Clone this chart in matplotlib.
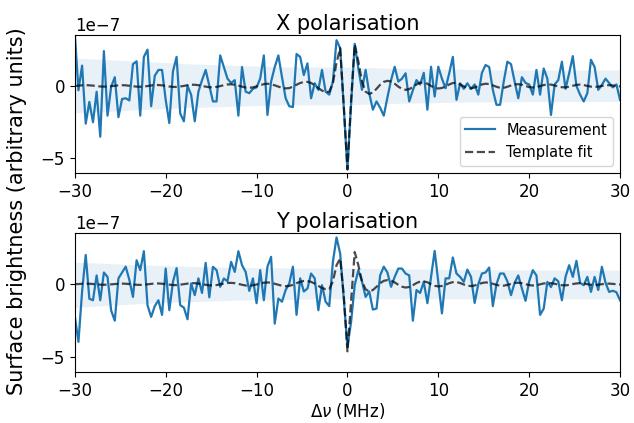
import numpy as np
import matplotlib
matplotlib.use("Agg")
import matplotlib.pyplot as plt

# frequency channels (MHz)
freq = np.linspace(-30, 30, 151)

# X polarisation measurement (units of 1e-7)
x_meas = [3.6, -0.3, 1.4, -2.6, -1.1, -2.5, -0.4, -3.5, 2.4, -2.05,
          -0.05, 0.6, -2.15, -0.9, -0.85, -1.0, 1.5, 1.7, -2.05, 2.0,
          2.5, -1.4, 0.7, 1.1, 1.1, -0.96, -2.56, 1.0, 2.0, -1.9,
          -2.44, 0.0, -0.6, -2.44, -0.4, 0.4, 1.1, 0.0, -1.07, -1.07,
          2.1, 1.3, 0.5, 0.2, 0.4, -2.05, 1.3, -0.4, -0.5, -0.2,
          -0.1, 0.5, 2.1, -2.0, 0.3, 1.3, 2.1, 0.6, -0.85, -1.4,
          -1.46, 2.2, 2.0, 0.75, 1.55, -0.85, 0.18, -0.27, 1.1, -0.4,
          -0.6, 0.3, 3.15, 2.6, -1.5, -5.75, -1.3, 2.9, 1.2, -0.27,
          1.1, -0.5, -1.64, -1.07, -1.5, -2.05, -0.8, 0.4, 1.32, 0.3,
          0.5, 0.87, -1.07, -0.3, 0.4, 0.1, 0.9, -1.64, 1.32, -0.73,
          1.32, 0.5, -0.16, 0.87, 2.0, -0.96, 0.18, -0.2, 0.18, -0.2,
          0.1, -0.6, 0.9, 1.44, 1.3, -0.27, -1.3, -1.3, 0.3, 1.67,
          1.5, 0.3, -0.85, 0.6, 0.2, 0.1, -0.6, 1.1, -0.6, 1.2,
          0.5, -2.0, 0.1, 0.4, 1.67, -0.2, 0.87, 2.05, 0.0, -0.6,
          -1.07, -0.5, 1.8, 1.3, -0.27, 0.07, 0.5, 0.2, -0.1, 0.1,
          -0.96]

# X polarisation template fit
x_fit = [0.00, 0.02, 0.04, 0.05, 0.04, 0.02, -0.01, -0.04, -0.05, -0.04,
         -0.02, 0.01, 0.04, 0.05, 0.04, 0.01, -0.02, -0.05, -0.06, -0.04,
         -0.01, 0.03, 0.06, 0.06, 0.04, 0.00, -0.04, -0.07, -0.07, -0.04,
         0.00, 0.05, 0.08, 0.08, 0.05, 0.00, -0.05, -0.09, -0.10, -0.07,
         -0.01, 0.05, 0.10, 0.11, 0.08, 0.02, -0.05, -0.11, -0.13, -0.10,
         -0.03, 0.05, 0.12, 0.15, 0.12, 0.04, -0.05, -0.13, -0.17, -0.15,
         -0.05, 0.08, 0.20, 0.27, 0.28, 0.20, 0.05, -0.15, -0.32, -0.42,
         -0.40, 0.20, 1.60, 2.60, -1.40, -5.75, -1.00, 2.85, 1.70, 0.30,
         -0.40, -0.55, -0.45, -0.20, 0.08, 0.28, 0.35, 0.30, 0.15, -0.05,
         -0.20, -0.27, -0.22, -0.08, 0.10, 0.22, 0.23, 0.15, 0.00, -0.13,
         -0.18, -0.14, -0.04, 0.10, 0.20, 0.20, 0.10, -0.03, -0.14, -0.17,
         -0.11, 0.00, 0.10, 0.15, 0.13, 0.04, -0.06, -0.13, -0.13, -0.06,
         0.03, 0.10, 0.12, 0.08, 0.00, -0.08, -0.11, -0.08, -0.01, 0.06,
         0.10, 0.09, 0.03, -0.04, -0.09, -0.10, -0.06, 0.01, 0.07, 0.09,
         0.06, 0.00, -0.05, -0.07, -0.05, 0.00, 0.04, 0.05, 0.03, 0.00,
         -0.03]

# Y polarisation measurement (units of 1e-7)
y_meas = [-2.2, -3.95, -0.5, 2.0, -1.0, -1.1, 0.6, -1.1, 0.8, 0.5,
          -1.8, -2.5, 0.4, 0.8, 1.2, 0.3, -0.87, 1.64, 0.96, 2.26,
          -1.44, -2.24, -1.5, -1.1, -2.1, 1.07, -1.78, 0.16, 1.1, -1.44,
          -1.6, -2.4, 0.05, -0.75, 0.4, -0.6, 1.46, -0.9, 1.19, 0.96,
          -0.18, 0.39, 0.2, 1.53, 0.84, 2.26, 1.3, 0.84, -0.46, 0.4,
          -1.3, 0.96, -1.1, 1.2, 1.87, -2.7, -0.98, -1.2, -0.4, 0.05,
          1.2, -2.1, 0.4, -0.5, -0.3, 0.73, 0.4, -1.78, -0.07, -1.2,
          -1.5, 1.53, 3.2, 2.1, -1.0, -4.3, -2.6, -0.07, 0.96, 0.2,
          -0.87, -0.5, -1.74, -1.67, 0.6, 1.2, 0.8, -0.18, 0.5, 1.07,
          1.07, 0.73, 0.6, -2.5, -0.4, -0.6, 0.16, -1.3, 0.5, 2.28,
          0.16, -2.0, 0.4, 0.4, 1.83, 0.73, 0.5, 0.16, 1.0, 0.5,
          -1.28, 0.0, 0.73, 0.8, 1.14, -1.5, 0.0, 0.73, 0.73, 0.2,
          -0.75, 0.1, 0.6, -0.3, -1.14, 0.2, 0.96, 0.6, -2.1, -1.67,
          0.16, -0.2, 0.4, 0.2, -1.1, 0.5, 1.3, 0.5, 1.6, 0.1,
          -0.07, 0.5, -0.53, 0.5, -0.4, 1.19, 0.1, -0.53, -0.45, -0.55,
          -1.1]

# Y polarisation template fit
y_fit = [0.00, 0.01, 0.03, 0.04, 0.03, 0.01, -0.01, -0.03, -0.04, -0.03,
         -0.01, 0.01, 0.03, 0.04, 0.03, 0.01, -0.02, -0.04, -0.05, -0.03,
         -0.01, 0.02, 0.05, 0.05, 0.03, 0.00, -0.03, -0.06, -0.06, -0.03,
         0.00, 0.04, 0.07, 0.07, 0.04, 0.00, -0.04, -0.08, -0.08, -0.06,
         -0.01, 0.04, 0.08, 0.09, 0.07, 0.02, -0.04, -0.09, -0.11, -0.08,
         -0.02, 0.04, 0.10, 0.12, 0.10, 0.03, -0.04, -0.11, -0.14, -0.12,
         -0.04, 0.07, 0.16, 0.22, 0.22, 0.16, 0.04, -0.12, -0.26, -0.34,
         -0.35, 0.20, 1.30, 1.75, -0.80, -4.60, -1.20, 2.20, 1.30, 0.20,
         -0.35, -0.50, -0.40, -0.18, 0.07, 0.23, 0.28, 0.24, 0.12, -0.04,
         -0.17, -0.23, -0.19, -0.07, 0.08, 0.18, 0.19, 0.13, 0.00, -0.11,
         -0.15, -0.12, -0.04, 0.07, 0.14, 0.15, 0.08, -0.02, -0.10, -0.13,
         -0.09, 0.00, 0.08, 0.12, 0.10, 0.03, -0.05, -0.10, -0.10, -0.05,
         0.02, 0.08, 0.10, 0.07, 0.00, -0.06, -0.09, -0.07, -0.01, 0.05,
         0.08, 0.07, 0.03, -0.03, -0.07, -0.08, -0.05, 0.01, 0.05, 0.07,
         0.05, 0.00, -0.04, -0.06, -0.04, 0.00, 0.03, 0.04, 0.02, 0.00,
         -0.02]

# uncertainty band (units of 1e-7)
band_freq = [-30, -27.5, -25, -22.5, -20, -17.5, -15, -12.5, -10, -7.5, -5, -2.5,
             0, 2.5, 5, 7.5, 10, 12.5, 15, 17.5, 20, 22.5, 25, 27.5, 30]
x_band_hi = [1.9, 1.85, 1.75, 1.68, 1.6, 1.52, 1.47, 1.42, 1.36, 1.32, 1.3, 1.3,
             1.3, 1.26, 1.22, 1.2, 1.16, 1.15, 1.12, 1.1, 1.1, 1.1, 1.1, 1.1, 1.1]
x_band_lo = [-1.85, -1.8, -1.72, -1.62, -1.55, -1.5, -1.45, -1.4, -1.35, -1.32, -1.3, -1.3,
             -1.3, -1.25, -1.2, -1.18, -1.15, -1.12, -1.1, -1.1, -1.08, -1.08, -1.07, -1.07, -1.07]
y_band_hi = [1.5, 1.45, 1.38, 1.32, 1.27, 1.22, 1.18, 1.15, 1.13, 1.12, 1.1, 1.1,
             1.1, 1.08, 1.05, 1.03, 1.02, 1.0, 1.0, 0.98, 0.98, 0.97, 0.96, 0.96, 0.96]
y_band_lo = [-1.6, -1.5, -1.4, -1.32, -1.25, -1.2, -1.15, -1.1, -1.07, -1.05, -1.03, -1.0,
             -1.0, -1.0, -1.0, -1.0, -1.0, -1.0, -1.0, -1.0, -1.0, -1.0, -1.0, -1.0, -1.0]

scale = 1e-7
fig = plt.figure(figsize=(6.34, 4.23), dpi=100)
ax1 = fig.add_axes([0.118, 0.591, 0.860, 0.326])
ax2 = fig.add_axes([0.118, 0.121, 0.860, 0.328])

panels = [(ax1, "X polarisation", x_meas, x_fit, x_band_hi, x_band_lo),
          (ax2, "Y polarisation", y_meas, y_fit, y_band_hi, y_band_lo)]

for ax, title, meas, fit, bhi, blo in panels:
    ax.fill_between(band_freq, np.array(blo) * scale, np.array(bhi) * scale,
                    color="#1f77b4", alpha=0.1, linewidth=0)
    ax.plot(freq, np.array(meas) * scale, color="#1f77b4", lw=1.6, label="Measurement")
    ax.plot(freq, np.array(fit) * scale, color="k", ls="--", lw=1.6, alpha=0.7,
            label="Template fit")
    ax.set_xlim(-30, 30)
    ax.set_ylim(-6e-7, 3.5e-7)
    ax.set_yticks([-5e-7, 0])
    ax.set_xticks([-30, -20, -10, 0, 10, 20, 30])
    ax.set_title(title, fontsize=15, pad=4)
    ax.tick_params(labelsize=12)
    ax.yaxis.get_offset_text().set_fontsize(12)

ax1.legend(loc="lower right", fontsize=10.5)
ax2.set_xlabel(r"$\Delta\nu$ (MHz)", fontsize=12, labelpad=1)
fig.text(0.027, 0.5, "Surface brightness (arbitrary units)", rotation=90,
         va="center", ha="center", fontsize=15)

fig.savefig("out.png", dpi=100)
